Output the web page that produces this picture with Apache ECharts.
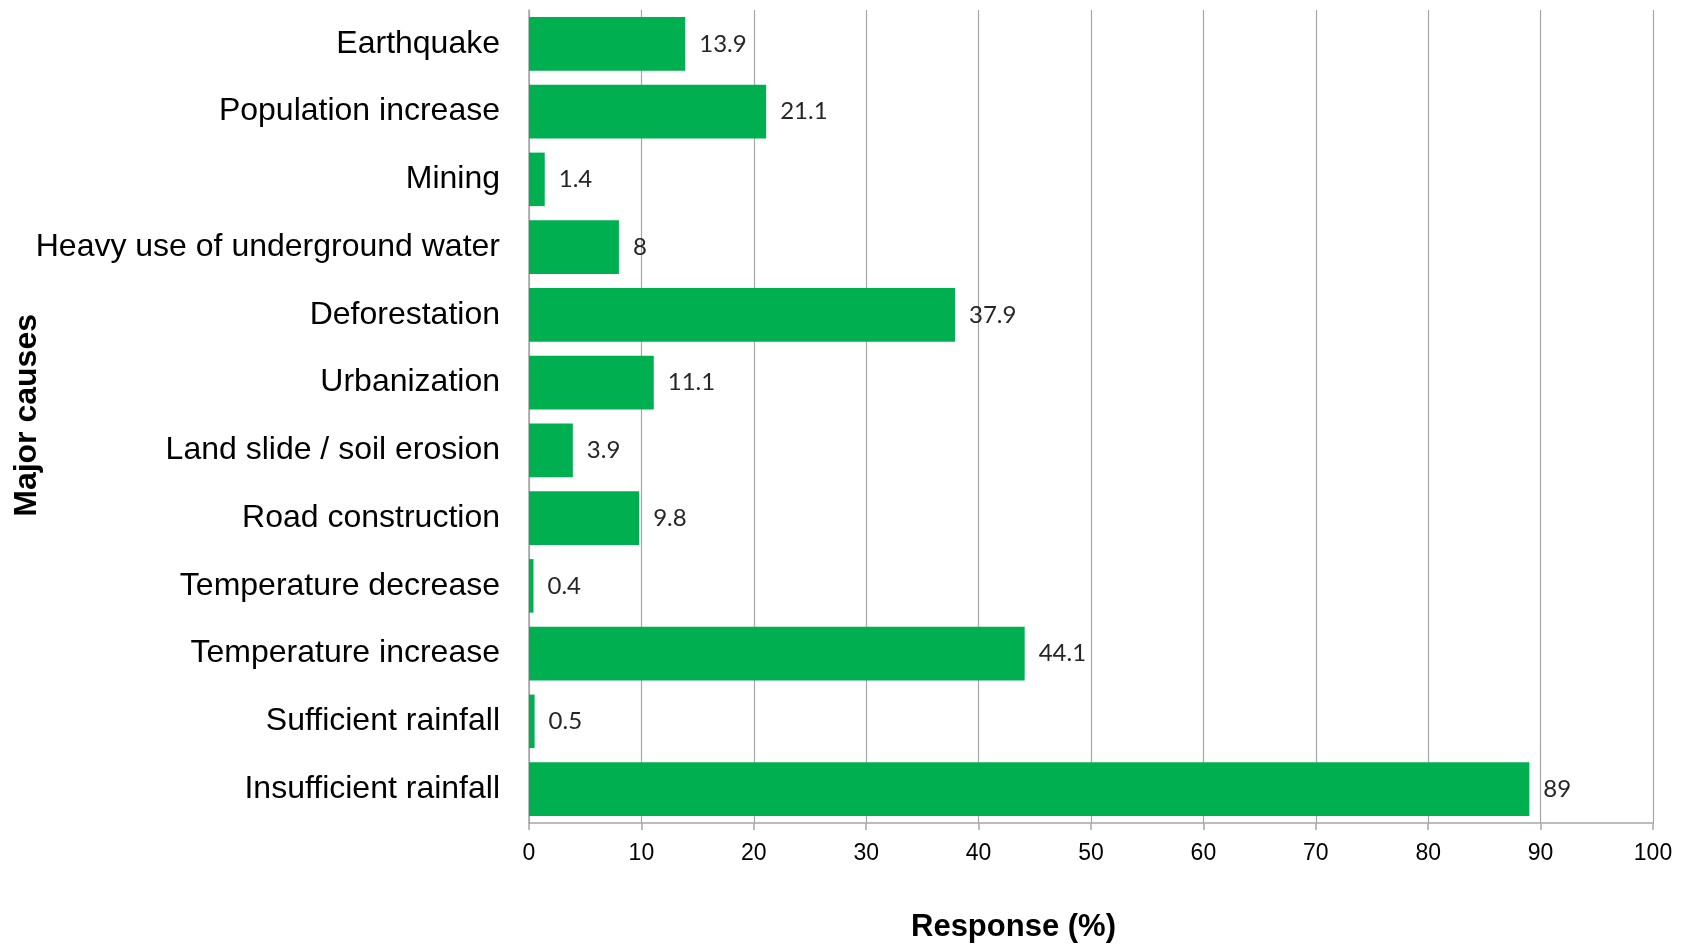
<!DOCTYPE html>
<html>
<head>
<meta charset="utf-8">
<script src="https://cdn.jsdelivr.net/npm/echarts@6/dist/echarts.min.js"></script>
<style>
html,body{margin:0;padding:0;background:#fff;}
#chart{width:1688px;height:944px;}
</style>
</head>
<body>
<div id="chart"></div>
<script>
const categories = [
  "Earthquake",
  "Population increase",
  "Mining",
  "Heavy use of underground water",
  "Deforestation",
  "Urbanization",
  "Land slide / soil erosion",
  "Road construction",
  "Temperature decrease",
  "Temperature increase",
  "Sufficient rainfall",
  "Insufficient rainfall"
];
const responseValues = [13.9, 21.1, 1.4, 8, 37.9, 11.1, 3.9, 9.8, 0.4, 44.1, 0.5, 89];
const xTicks = { min: 0, max: 100, interval: 10 };
const xTitle = 'Response (%)';
const yTitle = 'Major causes';

const chart = echarts.init(document.getElementById('chart'), null, { renderer: 'canvas' });
chart.setOption({
  animation: false,
  backgroundColor: '#ffffff',
  grid: { left: 529, right: 35, top: 10, bottom: 121, containLabel: false, outerBoundsMode: 'none' },
  graphic: [{
    type: 'text',
    left: 911,
    top: 912,
    style: {
      text: xTitle,
      font: 'bold 31px "Liberation Sans"',
      fill: '#000'
    }
  }, {
    type: 'text',
    left: 11,
    top: 314,
    rotation: Math.PI / 2,
    style: {
      text: yTitle,
      font: 'bold 32px "Liberation Sans"',
      fill: '#000',
      align: 'center',
      verticalAlign: 'middle'
    }
  }],
  xAxis: {
    type: 'value',
    min: xTicks.min,
    max: xTicks.max,
    interval: xTicks.interval,
    axisLine: { show: true, lineStyle: { color: '#a6a6a6', width: 1.5 } },
    axisTick: { show: true, length: 7, lineStyle: { color: '#a6a6a6', width: 1.5 } },
    axisLabel: { fontFamily: 'Liberation Sans', fontSize: 23, color: '#000', margin: 19 },
    splitLine: { show: true, lineStyle: { color: '#a6a6a6', width: 1.2 } }
  },
  yAxis: {
    type: 'category',
    data: categories,
    inverse: true,
    axisLine: { show: true, lineStyle: { color: '#a6a6a6', width: 1.5 } },
    axisTick: { show: false },
    axisLabel: { fontFamily: 'Liberation Sans', fontSize: 32, color: '#000', margin: 29 }
  },
  series: [{
    type: 'bar',
    data: responseValues,
    barCategoryGap: '21%',
    itemStyle: { color: '#00b050' },
    label: {
      show: true,
      position: 'right',
      distance: 14,
      fontFamily: 'Lato',
      fontSize: 24,
      color: '#262626'
    }
  }]
});
</script>
</body>
</html>
